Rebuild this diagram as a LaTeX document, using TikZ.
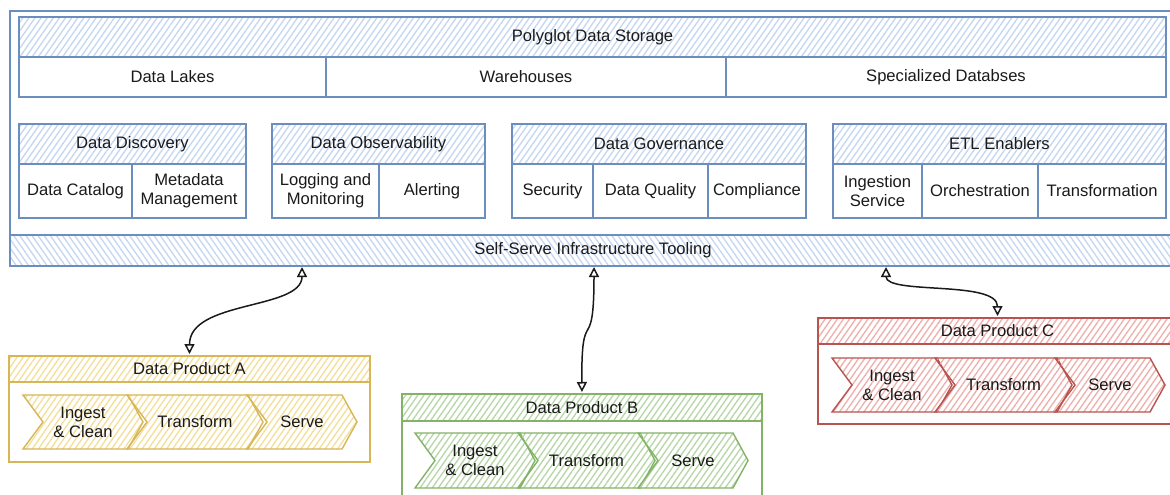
\documentclass[tikz,border=0pt]{standalone}
\usepackage{fontspec}
\setmainfont{Liberation Sans}
\usetikzlibrary{patterns.meta,arrows.meta}
\definecolor{blueS}{HTML}{6C8EBF}
\definecolor{blueH}{HTML}{C3D6F2}
\definecolor{yelS}{HTML}{D6B656}
\definecolor{yelH}{HTML}{F4DF98}
\definecolor{grnS}{HTML}{82B366}
\definecolor{grnH}{HTML}{B6D6A6}
\definecolor{redS}{HTML}{B85450}
\definecolor{redH}{HTML}{EEAEAB}
\definecolor{txt}{HTML}{1A1A1A}
% name, x1, y1, x2, y2, style, text
\newcommand\rbox[7]{\node[#6,minimum width={(#4)-(#2)},minimum height={(#5)-(#3)}] (#1) at ({((#2)+(#4))/2},{((#3)+(#5))/2}) {#7};}
% name, x1, y1, x2, y2, style, text
\newcommand\chev[7]{\path[#6] (#2,#3) -- ({#4-15},#3) -- (#4,{(#3+#5)/2}) -- ({#4-15},#5) -- (#2,#5) -- ({#2+20},{(#3+#5)/2}) -- cycle;
\node[lbl] (#1) at ({(#2+#4)/2},{(#3+#5)/2}) {#7};}
\begin{document}
\begin{tikzpicture}[x=1pt,y=-1pt,
  lbl/.style={font=\fontsize{16.6}{19}\selectfont, text=txt, align=center, inner sep=0pt},
  base/.style={lbl, line width=1.4pt, outer sep=0pt},
  bcell/.style={base, draw=blueS, fill=white},
  bhatch/.style={base, draw=blueS, pattern={Lines[angle=55,distance=5pt,line width=1.3pt]}, pattern color=blueH},
  bhatchb/.style={base, draw=blueS, pattern={Lines[angle=-55,distance=5pt,line width=1.3pt]}, pattern color=blueH},
  ybox/.style={base, draw=yelS, fill=white},
  yhatch/.style={base, draw=yelS, pattern={Lines[angle=55,distance=5pt,line width=1.3pt]}, pattern color=yelH},
  gbox/.style={base, draw=grnS, fill=white},
  ghatch/.style={base, draw=grnS, pattern={Lines[angle=55,distance=5pt,line width=1.3pt]}, pattern color=grnH},
  rbx/.style={base, draw=redS, fill=white},
  rhatch/.style={base, draw=redS, pattern={Lines[angle=55,distance=5pt,line width=1.3pt]}, pattern color=redH},
  conn/.style={draw=txt, line width=1.5pt, <->, >={Triangle[open,width=10pt,length=10pt]}, shorten <=1pt, shorten >=2pt}
]
\useasboundingbox (0,0) rectangle (1170,495);
\fill[white] (0,0) rectangle (1170,495);

% outer container and self-serve bar
\rbox{outer}{10}{11}{1176}{266}{bcell}{}
\rbox{ssi}{10}{235}{1176}{266}{bhatchb}{Self-Serve Infrastructure Tooling}

% polyglot storage
\rbox{poly}{19}{17}{1166}{57}{bhatch}{Polyglot Data Storage}
\rbox{lakes}{19}{57}{326}{97}{bcell}{Data Lakes}
\rbox{wh}{326}{57}{726}{97}{bcell}{Warehouses}
\rbox{spec}{726}{57}{1166}{97}{bcell}{Specialized Databses}

% data discovery
\rbox{disc}{19}{124}{246}{164}{bhatch}{Data Discovery}
\rbox{cat}{19}{164}{132}{218}{bcell}{Data Catalog}
\rbox{meta}{132}{164}{246}{218}{bcell}{Metadata\\Management}

% observability
\rbox{obs}{272}{124}{485}{164}{bhatch}{Data Observability}
\rbox{logm}{272}{164}{379}{218}{bcell}{Logging and\\Monitoring}
\rbox{alert}{379}{164}{485}{218}{bcell}{Alerting}

% governance
\rbox{gov}{512}{124}{806}{164}{bhatch}{Data Governance}
\rbox{sec}{512}{164}{593}{218}{bcell}{Security}
\rbox{dq}{593}{164}{708}{218}{bcell}{Data Quality}
\rbox{comp}{708}{164}{806}{218}{bcell}{Compliance}

% ETL
\rbox{etl}{833}{124}{1166}{164}{bhatch}{ETL Enablers}
\rbox{ing}{833}{164}{922}{218}{bcell}{Ingestion\\Service}
\rbox{orch}{922}{164}{1038}{218}{bcell}{Orchestration}
\rbox{trf}{1038}{164}{1166}{218}{bcell}{Transformation}

% Data product A
\rbox{prodA}{9}{356}{370}{462}{ybox}{}
\rbox{hA}{9}{356}{370}{382}{yhatch}{Data Product A}
\chev{a1}{23}{395}{143}{449}{yhatch}{Ingest\\\& Clean}
\chev{a2}{127}{395}{263}{449}{yhatch}{Transform}
\chev{a3}{247}{395}{357}{449}{yhatch}{Serve}

% Data product B
\rbox{prodB}{402}{394}{762}{502}{gbox}{}
\rbox{hB}{402}{394}{762}{421}{ghatch}{Data Product B}
\chev{b1}{415}{433}{535}{488}{ghatch}{Ingest\\\& Clean}
\chev{b2}{518}{433}{655}{488}{ghatch}{Transform}
\chev{b3}{638}{433}{748}{488}{ghatch}{Serve}

% Data product C
\rbox{prodC}{818}{318}{1177}{424}{rbx}{}
\rbox{hC}{818}{318}{1177}{344}{rhatch}{Data Product C}
\chev{c1}{832}{358}{952}{412}{rhatch}{Ingest\\\& Clean}
\chev{c2}{935}{358}{1072}{412}{rhatch}{Transform}
\chev{c3}{1055}{358}{1165}{412}{rhatch}{Serve}

% connectors
\draw[conn] ([xshift=-291pt]ssi.south) .. controls +(0,44) and +(0,-56) .. (hA.north);
\draw[conn] ([xshift=1pt]ssi.south) .. controls +(0,94) and +(-1,-94) .. (hB.north);
\draw[conn] ([xshift=293pt]ssi.south) .. controls +(0,29) and +(0,-38) .. (hC.north);
\end{tikzpicture}
\end{document}
